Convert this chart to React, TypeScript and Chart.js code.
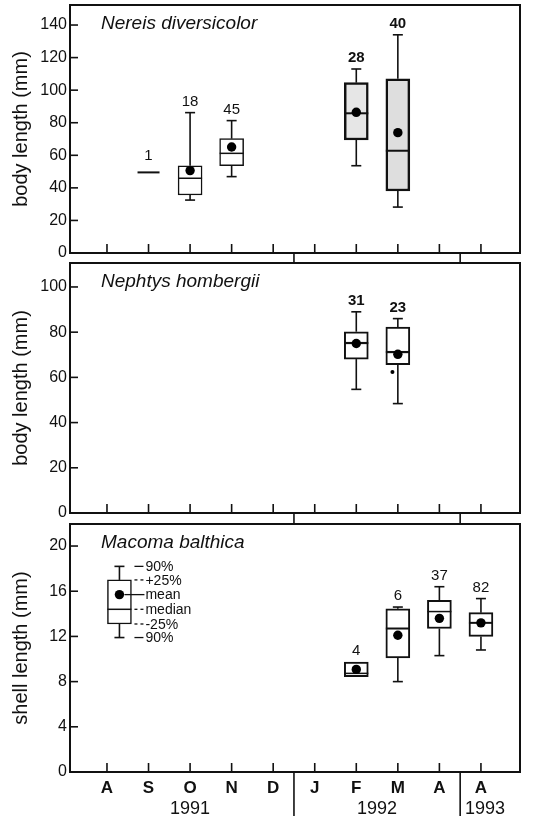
import React, { useEffect, useRef } from 'react';
import { Chart, registerables } from 'chart.js';

Chart.register(...registerables);

const FONT = '"Liberation Sans", Arial, Helvetica, sans-serif';
const INK = '#111';
const PAGE_W = 539;

// shared x axis (months)
const monthLabels = ['A', 'S', 'O', 'N', 'D', 'J', 'F', 'M', 'A', 'A'];
const monthPositions = [0, 1, 2, 3, 4, 5, 6, 7, 8, 9];
const yearLabels = ['1991', '1992', '1993'];
const yearPositions = [2, 6.5, 9.1];
const yearDividers = [4.5, 8.5];
const xRange = [-0.89, 9.94];

// Nereis diversicolor — body length (mm)
const nereisX = [1, 2, 3, 6, 7];
const nereisN = ['1', '18', '45', '28', '40'];
const nereisLow = [null, 32.5, 46.9, 53.6, 28.2];
const nereisQ1 = [null, 35.6, 53.6, 69.4, 38.1];
const nereisMedian = [49.5, 45.9, 61.2, 85.8, 62.8];
const nereisQ3 = [null, 53.6, 70.2, 104.6, 107];
const nereisHigh = [null, 86.2, 81.3, 113, 134];
const nereisMean = [null, 50.6, 65.1, 86.4, 73.9];
const nereisYTicks = [0, 20, 40, 60, 80, 100, 120, 140];

// Nephtys hombergii — body length (mm)
const nephtysX = [6, 7];
const nephtysN = ['31', '23'];
const nephtysLow = [54.7, 48.4];
const nephtysQ1 = [68.1, 65.6];
const nephtysMedian = [75.2, 71.2];
const nephtysQ3 = [80.2, 82.2];
const nephtysHigh = [89, 86];
const nephtysMean = [75, 70.2];
const nephtysOutlierX = [6.87];
const nephtysOutlierY = [62.4];
const nephtysYTicks = [0, 20, 40, 60, 80, 100];

// Macoma balthica — shell length (mm)
const macomaX = [6, 7, 8, 9];
const macomaN = ['4', '6', '37', '82'];
const macomaLow = [null, 8.0, 10.3, 10.8];
const macomaQ1 = [8.43, 10.1, 12.7, 12.0];
const macomaMedian = [8.73, 12.7, 14.2, 13.2];
const macomaQ3 = [9.73, 14.45, 15.2, 14.1];
const macomaHigh = [null, 14.6, 16.4, 15.35];
const macomaMean = [9.08, 12.1, 13.6, 13.2];
const macomaYTicks = [0, 4, 8, 12, 16, 20];

// key box (explanation of the symbols)
const keyX = 0.3;
const keyLow = 11.9;
const keyQ1 = 13.1;
const keyMedian = 14.4;
const keyQ3 = 17.0;
const keyHigh = 18.2;
const keyMean = 15.7;
const keyLabels = ['90%', '+25%', 'mean', 'median', '-25%', '90%'];
const keyValues = [keyHigh, keyQ3, keyMean, keyMedian, keyQ1, keyLow];
const keyDashed = [false, true, false, true, true, false];

type Num = number | null;
type Panel = {
  title: string;
  yTitle: string;
  yMax: number;
  yTicks: number[];
  x: number[];
  n: string[];
  low: Num[];
  q1: Num[];
  median: number[];
  q3: Num[];
  high: Num[];
  mean: Num[];
  fills: string[];
  borders: number[];
  medianWidths: number[];
  nBold: boolean[];
  outX: number[];
  outY: number[];
  top: number;
  height: number;
  padTop: number;
  padBottom: number;
  showX: boolean;
  gapAbove: boolean;
  key: boolean;
};

const panels: Panel[] = [
  {
    title: 'Nereis diversicolor',
    yTitle: 'body length (mm)',
    yMax: 152.3,
    yTicks: nereisYTicks,
    x: nereisX,
    n: nereisN,
    low: nereisLow,
    q1: nereisQ1,
    median: nereisMedian,
    q3: nereisQ3,
    high: nereisHigh,
    mean: nereisMean,
    fills: ['#ffffff', '#ffffff', '#ffffff', '#e6e6e6', '#dedede'],
    borders: [1.5, 1.5, 1.5, 2.5, 2.5],
    medianWidths: [2, 1.5, 1.5, 2, 2],
    nBold: [false, false, false, true, true],
    outX: [],
    outY: [],
    top: 0,
    height: 266,
    padTop: 5,
    padBottom: 13,
    showX: false,
    gapAbove: false,
    key: false,
  },
  {
    title: 'Nephtys hombergii',
    yTitle: 'body length (mm)',
    yMax: 110.6,
    yTicks: nephtysYTicks,
    x: nephtysX,
    n: nephtysN,
    low: nephtysLow,
    q1: nephtysQ1,
    median: nephtysMedian,
    q3: nephtysQ3,
    high: nephtysHigh,
    mean: nephtysMean,
    fills: ['#ffffff', '#ffffff'],
    borders: [2, 2],
    medianWidths: [2.2, 2.2],
    nBold: [true, true],
    outX: nephtysOutlierX,
    outY: nephtysOutlierY,
    top: 245,
    height: 280,
    padTop: 18,
    padBottom: 12,
    showX: false,
    gapAbove: true,
    key: false,
  },
  {
    title: 'Macoma balthica',
    yTitle: 'shell length (mm)',
    yMax: 21.95,
    yTicks: macomaYTicks,
    x: [keyX, ...macomaX],
    n: ['', ...macomaN],
    low: [keyLow, ...macomaLow],
    q1: [keyQ1, ...macomaQ1],
    median: [keyMedian, ...macomaMedian],
    q3: [keyQ3, ...macomaQ3],
    high: [keyHigh, ...macomaHigh],
    mean: [keyMean, ...macomaMean],
    fills: ['#ffffff', '#ffffff', '#ffffff', '#ffffff', '#ffffff'],
    borders: [1.5, 2, 2, 2, 2],
    medianWidths: [1.5, 1.5, 2, 1.5, 2],
    nBold: [false, false, false, false, false],
    outX: [],
    outY: [],
    top: 505,
    height: 314,
    padTop: 19,
    padBottom: 0,
    showX: true,
    gapAbove: true,
    key: true,
  },
];

const BOX_W = 24;
const CAP = 5;

function line(ctx: CanvasRenderingContext2D, x1: number, y1: number, x2: number, y2: number) {
  ctx.beginPath();
  ctx.moveTo(x1, y1);
  ctx.lineTo(x2, y2);
  ctx.stroke();
}

function makePlugin(p: Panel) {
  return {
    id: 'boxplotExtras',
    afterDatasetDraw(chart: any, args: any) {
      if (args.index !== 0) return;
      const ctx: CanvasRenderingContext2D = chart.ctx;
      const xs = chart.scales.x;
      const ys = chart.scales.y;
      ctx.save();
      ctx.strokeStyle = INK;
      p.x.forEach((xv, i) => {
        const cx = xs.getPixelForValue(xv);
        const hi = p.high[i];
        const lo = p.low[i];
        const q1 = p.q1[i];
        const q3 = p.q3[i];
        ctx.lineWidth = 1.6;
        if (hi != null && q3 != null) {
          line(ctx, cx, ys.getPixelForValue(q3), cx, ys.getPixelForValue(hi));
          line(ctx, cx - CAP, ys.getPixelForValue(hi), cx + CAP, ys.getPixelForValue(hi));
        }
        if (lo != null && q1 != null) {
          line(ctx, cx, ys.getPixelForValue(q1), cx, ys.getPixelForValue(lo));
          line(ctx, cx - CAP, ys.getPixelForValue(lo), cx + CAP, ys.getPixelForValue(lo));
        }
        ctx.lineWidth = p.medianWidths[i];
        const m = ys.getPixelForValue(p.median[i]);
        const half = q1 == null ? BOX_W / 2 - 1 : BOX_W / 2;
        line(ctx, cx - half, m, cx + half, m);
      });
      ctx.restore();
    },
    afterDraw(chart: any) {
      const ctx: CanvasRenderingContext2D = chart.ctx;
      const a = chart.chartArea;
      const xs = chart.scales.x;
      const ys = chart.scales.y;
      ctx.save();
      ctx.strokeStyle = INK;
      ctx.fillStyle = INK;
      // frame
      ctx.lineWidth = 2;
      ctx.strokeRect(a.left, a.top, a.right - a.left, a.bottom - a.top);
      // inward ticks
      ctx.lineWidth = 1.6;
      monthPositions.forEach((v) => {
        const px = xs.getPixelForValue(v);
        line(ctx, px, a.bottom, px, a.bottom - 9);
      });
      p.yTicks.forEach((v) => {
        const py = ys.getPixelForValue(v);
        line(ctx, a.left, py, a.left + 8, py);
      });
      // year dividers
      yearDividers.forEach((v) => {
        const px = xs.getPixelForValue(v);
        if (p.gapAbove) line(ctx, px, a.top - 11, px, a.top);
        if (p.showX) line(ctx, px, a.bottom, px, a.bottom + 44);
      });
      // sample sizes
      ctx.textAlign = 'center';
      ctx.textBaseline = 'middle';
      p.n.forEach((s, i) => {
        if (!s) return;
        ctx.font = `${p.nBold[i] ? 'bold ' : ''}15px ${FONT}`;
        const topV = p.high[i] ?? p.q3[i] ?? p.median[i];
        const off = p.q3[i] == null ? 17 : 11;
        ctx.fillText(s, xs.getPixelForValue(p.x[i]), ys.getPixelForValue(topV) - off);
      });
      // panel title
      ctx.font = `italic 19px ${FONT}`;
      ctx.textAlign = 'left';
      ctx.fillText(p.title, a.left + 31, a.top + 19);
      // years
      if (p.showX) {
        ctx.font = `18px ${FONT}`;
        ctx.textAlign = 'center';
        yearLabels.forEach((s, i) => {
          ctx.fillText(s, xs.getPixelForValue(yearPositions[i]), a.bottom + 37);
        });
      }
      // key
      if (p.key) {
        const cx = xs.getPixelForValue(keyX);
        ctx.font = `14px ${FONT}`;
        ctx.textAlign = 'left';
        ctx.lineWidth = 1.3;
        keyValues.forEach((v, i) => {
          const py = ys.getPixelForValue(v);
          ctx.setLineDash(keyDashed[i] ? [3, 3] : []);
          if (keyLabels[i] === 'mean') line(ctx, cx + 5, py, cx + 25, py);
          else line(ctx, cx + 15, py, cx + 24, py);
          ctx.setLineDash([]);
          ctx.fillText(keyLabels[i], cx + 26, py + 1);
        });
      }
      ctx.restore();
    },
  };
}

function buildConfig(p: Panel): any {
  const idx = p.x.map((_, i) => i);
  const boxIdx = idx.filter((i) => p.q1[i] != null && p.q3[i] != null);
  const meanIdx = idx.filter((i) => p.mean[i] != null);
  return {
    type: 'bar',
    data: {
      datasets: [
        {
          type: 'bar',
          data: boxIdx.map((i) => ({ x: p.x[i], y: [p.q1[i], p.q3[i]] })),
          backgroundColor: boxIdx.map((i) => p.fills[i]),
          borderColor: INK,
          borderWidth: boxIdx.map((i) => p.borders[i]),
          borderSkipped: false,
          barThickness: BOX_W,
          order: 3,
        },
        {
          type: 'scatter',
          data: meanIdx.map((i) => ({ x: p.x[i], y: p.mean[i] })),
          pointRadius: 4.7,
          pointBackgroundColor: '#000',
          pointBorderWidth: 0,
          order: 2,
        },
        {
          type: 'scatter',
          data: p.outX.map((xv, i) => ({ x: xv, y: p.outY[i] })),
          pointRadius: 2,
          pointBackgroundColor: '#000',
          pointBorderWidth: 0,
          order: 1,
        },
      ],
    },
    options: {
      responsive: false,
      animation: false,
      devicePixelRatio: 1,
      events: [],
      layout: { padding: { left: 0, right: 19, top: p.padTop, bottom: p.padBottom } },
      plugins: { legend: { display: false }, tooltip: { enabled: false } },
      scales: {
        x: {
          type: 'linear',
          min: xRange[0],
          max: xRange[1],
          offset: false,
          display: p.showX,
          grid: { display: false, drawTicks: false, offset: false },
          border: { display: false },
          afterBuildTicks: (s: any) => {
            s.ticks = monthPositions.map((v) => ({ value: v }));
          },
          afterFit: (s: any) => {
            if (p.showX) s.height = 47;
            s.paddingLeft = 0;
            s.paddingRight = 0;
          },
          ticks: {
            autoSkip: false,
            maxRotation: 0,
            minRotation: 0,
            padding: 6,
            color: INK,
            font: { family: FONT, size: 17, weight: 'bold' },
            callback: (_v: any, i: number) => monthLabels[i],
          },
        },
        y: {
          type: 'linear',
          min: 0,
          max: p.yMax,
          grid: { display: false, drawTicks: false },
          border: { display: false },
          afterBuildTicks: (s: any) => {
            s.ticks = p.yTicks.map((v) => ({ value: v }));
          },
          afterFit: (s: any) => {
            s.width = 70;
            s.paddingTop = 0;
            s.paddingBottom = 0;
          },
          ticks: { padding: 3, color: INK, font: { family: FONT, size: 16 } },
          title: {
            display: true,
            text: p.yTitle,
            color: INK,
            font: { family: FONT, size: 20 },
            padding: { top: 9, bottom: 0 },
          },
        },
      },
    },
    plugins: [makePlugin(p)],
  };
}

function PanelCanvas({ panel }: { panel: Panel }) {
  const ref = useRef<HTMLCanvasElement>(null);
  useEffect(() => {
    if (!ref.current) return;
    const chart = new Chart(ref.current, buildConfig(panel));
    return () => chart.destroy();
  }, [panel]);
  return (
    <canvas
      ref={ref}
      width={PAGE_W}
      height={panel.height}
      style={{ position: 'absolute', left: 0, top: panel.top, width: PAGE_W, height: panel.height }}
    />
  );
}

export default function App() {
  return (
    <div
      style={{
        position: 'absolute',
        left: 0,
        top: 0,
        width: PAGE_W,
        height: 819,
        background: '#fff',
        overflow: 'hidden',
      }}
    >
      {panels.map((p) => (
        <PanelCanvas key={p.title} panel={p} />
      ))}
    </div>
  );
}
